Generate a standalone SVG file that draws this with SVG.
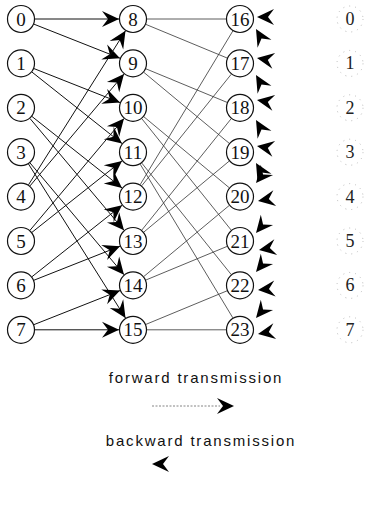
<svg xmlns="http://www.w3.org/2000/svg" xmlns:xlink="http://www.w3.org/1999/xlink" width="367" height="508" viewBox="0 0 367 508">
<style>
.n circle{fill:#fff;stroke:#111;stroke-width:1.2}
.n text{font-family:"Liberation Serif","DejaVu Serif",serif;font-size:19px;fill:#111;text-anchor:middle;dominant-baseline:central}
.r circle{fill:none;stroke:#aaa;stroke-width:0.8;stroke-dasharray:1 5}
.r text{font-family:"Liberation Serif","DejaVu Serif",serif;font-size:18px;fill:#222;text-anchor:middle;dominant-baseline:central}
.f line{stroke:#111;stroke-width:1;marker-end:url(#ah)}
.s line{stroke:#333;stroke-width:0.8}
.chev{fill:#000}
.leg{font-family:"Liberation Sans",Arial,sans-serif;font-size:15px;letter-spacing:1.8px;fill:#111;text-anchor:middle}
</style>
<defs>
<path id="cv" d="M0,0 L-17,-8 L-11,0 L-17,8 Z"/>
<marker id="ah" markerUnits="userSpaceOnUse" viewBox="-18 -9 19 18" refX="0" refY="0" markerWidth="19" markerHeight="18" orient="auto">
<path d="M0,0 L-17,-8 L-11,0 L-17,8 Z" fill="#000"/>
</marker>
</defs>
<g id="connectors">
<g class="f">
<line x1="35" y1="19" x2="119" y2="19"/>
<line x1="34" y1="24.2" x2="120" y2="58.2"/>
<line x1="34" y1="68.6" x2="120" y2="102.6"/>
<line x1="32" y1="72.1" x2="122" y2="143.5"/>
<line x1="32" y1="116.5" x2="122" y2="187.9"/>
<line x1="30" y1="118.5" x2="124" y2="230.3"/>
<line x1="30" y1="162.9" x2="124" y2="274.7"/>
<line x1="28.5" y1="164" x2="125.5" y2="318"/>
<line x1="28.5" y1="184.8" x2="125.5" y2="30.8"/>
<line x1="30" y1="185.9" x2="124" y2="74.1"/>
<line x1="30" y1="230.3" x2="124" y2="118.5"/>
<line x1="32" y1="232.3" x2="122" y2="160.9"/>
<line x1="32" y1="276.7" x2="122" y2="205.3"/>
<line x1="34" y1="280.2" x2="120" y2="246.2"/>
<line x1="34" y1="324.6" x2="120" y2="290.6"/>
<line x1="35" y1="329.8" x2="119" y2="329.8"/>
</g>
<g class="s">
<line x1="147" y1="19" x2="226" y2="19"/>
<line x1="145.9" y1="24.4" x2="227.1" y2="58"/>
<line x1="145.9" y1="68.8" x2="227.1" y2="102.4"/>
<line x1="143.8" y1="72.3" x2="229.2" y2="143.3"/>
<line x1="143.8" y1="116.7" x2="229.2" y2="187.7"/>
<line x1="141.8" y1="118.7" x2="231.2" y2="230.1"/>
<line x1="141.8" y1="163.1" x2="231.2" y2="274.5"/>
<line x1="140.2" y1="164.2" x2="232.8" y2="317.8"/>
<line x1="140.2" y1="184.6" x2="232.8" y2="31"/>
<line x1="141.8" y1="185.7" x2="231.2" y2="74.3"/>
<line x1="141.8" y1="230.1" x2="231.2" y2="118.7"/>
<line x1="143.8" y1="232.1" x2="229.2" y2="161.1"/>
<line x1="143.8" y1="276.5" x2="229.2" y2="205.5"/>
<line x1="145.9" y1="280" x2="227.1" y2="246.4"/>
<line x1="145.9" y1="324.4" x2="227.1" y2="290.8"/>
<line x1="147" y1="329.8" x2="226" y2="329.8"/>
</g>
<g class="chev">
<use href="#cv" transform="translate(257,17) rotate(180)"/>
<use href="#cv" transform="translate(256,29) rotate(240)"/>
<use href="#cv" transform="translate(257,58) rotate(190)"/>
<use href="#cv" transform="translate(256,75) rotate(240)"/>
<use href="#cv" transform="translate(257,100) rotate(190)"/>
<use href="#cv" transform="translate(256,120) rotate(240)"/>
<use href="#cv" transform="translate(257,146) rotate(190)"/>
<use href="#cv" transform="translate(256,163) rotate(240)"/>
<use href="#cv" transform="translate(256,183) rotate(130)"/>
<use href="#cv" transform="translate(258,201) rotate(170)"/>
<use href="#cv" transform="translate(256,233) rotate(130)"/>
<use href="#cv" transform="translate(259,250) rotate(170)"/>
<use href="#cv" transform="translate(256,272) rotate(130)"/>
<use href="#cv" transform="translate(258,290) rotate(175)"/>
<use href="#cv" transform="translate(256,318) rotate(130)"/>
<use href="#cv" transform="translate(258,334) rotate(170)"/>
</g>
</g>
<g id="n0" class="n"><circle cx="21" cy="19" r="13.5"/><text x="21" y="19">0</text></g>
<g id="n1" class="n"><circle cx="21" cy="63.4" r="13.5"/><text x="21" y="63.4">1</text></g>
<g id="n2" class="n"><circle cx="21" cy="107.8" r="13.5"/><text x="21" y="107.8">2</text></g>
<g id="n3" class="n"><circle cx="21" cy="152.2" r="13.5"/><text x="21" y="152.2">3</text></g>
<g id="n4" class="n"><circle cx="21" cy="196.6" r="13.5"/><text x="21" y="196.6">4</text></g>
<g id="n5" class="n"><circle cx="21" cy="241" r="13.5"/><text x="21" y="241">5</text></g>
<g id="n6" class="n"><circle cx="21" cy="285.4" r="13.5"/><text x="21" y="285.4">6</text></g>
<g id="n7" class="n"><circle cx="21" cy="329.8" r="13.5"/><text x="21" y="329.8">7</text></g>
<g id="n8" class="n"><circle cx="133" cy="19" r="13.5"/><text x="133" y="19">8</text></g>
<g id="n9" class="n"><circle cx="133" cy="63.4" r="13.5"/><text x="133" y="63.4">9</text></g>
<g id="n10" class="n"><circle cx="133" cy="107.8" r="13.5"/><text x="133" y="107.8">10</text></g>
<g id="n11" class="n"><circle cx="133" cy="152.2" r="13.5"/><text x="133" y="152.2">11</text></g>
<g id="n12" class="n"><circle cx="133" cy="196.6" r="13.5"/><text x="133" y="196.6">12</text></g>
<g id="n13" class="n"><circle cx="133" cy="241" r="13.5"/><text x="133" y="241">13</text></g>
<g id="n14" class="n"><circle cx="133" cy="285.4" r="13.5"/><text x="133" y="285.4">14</text></g>
<g id="n15" class="n"><circle cx="133" cy="329.8" r="13.5"/><text x="133" y="329.8">15</text></g>
<g id="n16" class="n"><circle cx="240" cy="19" r="13.5"/><text x="240" y="19">16</text></g>
<g id="n17" class="n"><circle cx="240" cy="63.4" r="13.5"/><text x="240" y="63.4">17</text></g>
<g id="n18" class="n"><circle cx="240" cy="107.8" r="13.5"/><text x="240" y="107.8">18</text></g>
<g id="n19" class="n"><circle cx="240" cy="152.2" r="13.5"/><text x="240" y="152.2">19</text></g>
<g id="n20" class="n"><circle cx="240" cy="196.6" r="13.5"/><text x="240" y="196.6">20</text></g>
<g id="n21" class="n"><circle cx="240" cy="241" r="13.5"/><text x="240" y="241">21</text></g>
<g id="n22" class="n"><circle cx="240" cy="285.4" r="13.5"/><text x="240" y="285.4">22</text></g>
<g id="n23" class="n"><circle cx="240" cy="329.8" r="13.5"/><text x="240" y="329.8">23</text></g>
<g id="r0" class="r"><circle cx="350" cy="19" r="13"/><text x="350" y="19">0</text></g>
<g id="r1" class="r"><circle cx="350" cy="63.4" r="13"/><text x="350" y="63.4">1</text></g>
<g id="r2" class="r"><circle cx="350" cy="107.8" r="13"/><text x="350" y="107.8">2</text></g>
<g id="r3" class="r"><circle cx="350" cy="152.2" r="13"/><text x="350" y="152.2">3</text></g>
<g id="r4" class="r"><circle cx="350" cy="196.6" r="13"/><text x="350" y="196.6">4</text></g>
<g id="r5" class="r"><circle cx="350" cy="241" r="13"/><text x="350" y="241">5</text></g>
<g id="r6" class="r"><circle cx="350" cy="285.4" r="13"/><text x="350" y="285.4">6</text></g>
<g id="r7" class="r"><circle cx="350" cy="329.8" r="13"/><text x="350" y="329.8">7</text></g>
<g id="legend">
<text class="leg" x="196" y="383">forward transmission</text>
<line x1="152" y1="406" x2="220" y2="406" stroke="#777" stroke-width="0.9" stroke-dasharray="2 1.5"/>
<use href="#cv" transform="translate(234,406)"/>
<text class="leg" x="201" y="446">backward transmission</text>
<use href="#cv" transform="translate(152,464) rotate(180)"/>
</g>
</svg>
